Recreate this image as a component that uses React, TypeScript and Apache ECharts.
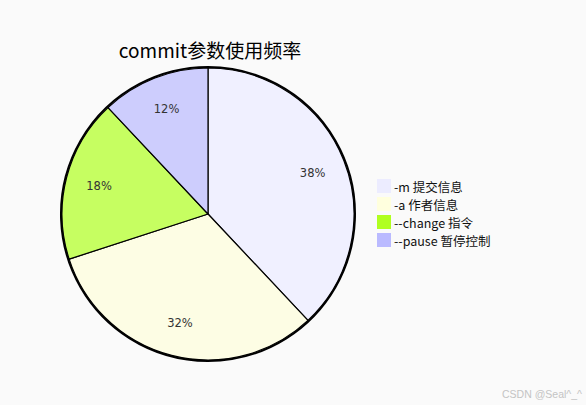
import React, { useEffect, useRef } from "react";
import * as echarts from "echarts";

const titleText = "commit参数使用频率";
const categories = ["-m 提交信息", "-a 作者信息", "--change 指令", "--pause 暂停控制"];
const values = [38, 32, 18, 12];
const sliceColors = ["#f0f0ff", "#fdfde4", "#c6fe61", "#cdcdfd"];
const legendColors = ["#ececff", "#ffffde", "#b0ff20", "#babaff"];
const watermark = "CSDN @Seal^_^";

export default function App() {
  const ref = useRef<HTMLDivElement>(null);
  useEffect(() => {
    document.body.style.margin = "0";
    const chart = echarts.init(ref.current!, undefined, { renderer: "svg" });
    const font = "'Trebuchet MS', 'DejaVu Sans', 'Noto Sans CJK SC', sans-serif";
    chart.setOption({
      animation: false,
      backgroundColor: "#fafafa",
      title: {
        text: titleText,
        left: 210,
        top: 40,
        textAlign: "center",
        padding: 0,
        textStyle: { fontSize: 19, fontWeight: "normal", color: "#000", fontFamily: "'Noto Sans CJK SC', sans-serif" },
      },
      legend: {
        orient: "vertical",
        left: 377,
        top: 179,
        padding: 0,
        itemWidth: 14,
        itemHeight: 14,
        itemGap: 4,
        icon: "rect",
        selectedMode: false,
        textStyle: { fontSize: 12.5, color: "#111", fontFamily: "'Noto Sans CJK SC', sans-serif", padding: [0, 0, 0, -2] },
        data: categories.map((c, i) => ({ name: c, itemStyle: { color: legendColors[i], borderWidth: 0 } })),
      },
      graphic: [
        {
          type: "text",
          right: 4,
          bottom: 6,
          style: { text: watermark, fill: "#c4c4c4", fontSize: 10.5, fontFamily: "'Liberation Sans', Arial, sans-serif" },
        },
      ],
      series: [
        {
          type: "pie",
          center: [208, 214],
          radius: [0, 146],
          startAngle: 90,
          clockwise: true,
          silent: true,
          label: { show: false },
          labelLine: { show: false },
          itemStyle: { borderColor: "#000", borderWidth: 1.2 },
          emphasis: { disabled: true },
          data: categories.map((c, i) => ({ name: c, value: values[i], itemStyle: { color: sliceColors[i] } })),
        },
        {
          type: "pie",
          center: [208, 214],
          radius: [73, 146],
          startAngle: 90,
          clockwise: true,
          silent: true,
          legendHoverLink: false,
          itemStyle: { color: "rgba(0,0,0,0)", borderWidth: 0 },
          label: {
            show: true,
            position: "inside",
            formatter: "{d}%",
            fontSize: 11.5,
            color: "#333",
            fontFamily: font,
          },
          labelLine: { show: false },
          emphasis: { disabled: true },
          data: categories.map((c, i) => ({ name: c, value: values[i] })),
        },
        {
          type: "pie",
          center: [208, 214],
          radius: [0, 147],
          silent: true,
          legendHoverLink: false,
          label: { show: false },
          labelLine: { show: false },
          itemStyle: { color: "rgba(0,0,0,0)", borderColor: "#000", borderWidth: 2 },
          emphasis: { disabled: true },
          data: [{ name: "outline", value: 1 }],
        },
      ],
    });
    return () => chart.dispose();
  }, []);
  return <div ref={ref} style={{ width: 586, height: 405 }} />;
}
